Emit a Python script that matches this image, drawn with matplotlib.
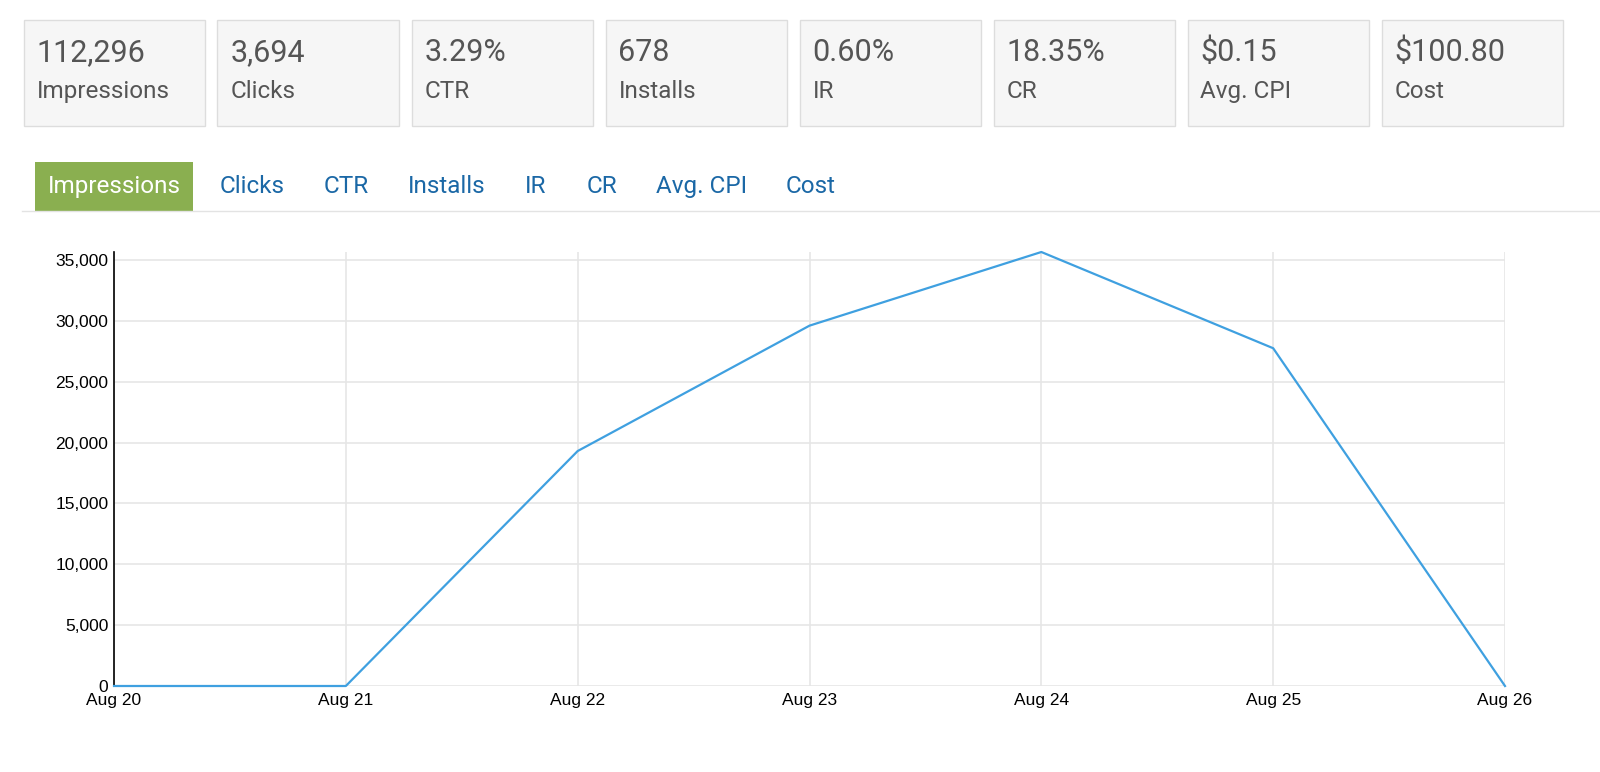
import matplotlib.pyplot as plt
from matplotlib.patches import Rectangle
from matplotlib.ticker import FuncFormatter

# summary cards
card_values = ["112,296", "3,694", "3.29%", "678", "0.60%", "18.35%", "$0.15", "$100.80"]
card_labels = ["Impressions", "Clicks", "CTR", "Installs", "IR", "CR", "Avg. CPI", "Cost"]

# tabs
tab_labels = ["Impressions", "Clicks", "CTR", "Installs", "IR", "CR", "Avg. CPI", "Cost"]
tab_centers = [114, 252, 346, 447, 536, 602, 702, 811]  # px

# chart data
days = ["Aug 20", "Aug 21", "Aug 22", "Aug 23", "Aug 24", "Aug 25", "Aug 26"]
impressions = [0, 0, 19300, 29600, 35650, 27746, 0]

W, H = 1600, 772
fig = plt.figure(figsize=(W / 100, H / 100), dpi=100)
fig.patch.set_facecolor("white")


def fx(px):
    return px / W


def fy(py):
    return 1 - py / H


ui_font = "Roboto"
grey_text = "#555555"

# cards
card_left, card_w, card_pitch = 23.5, 181, 194
card_top, card_bot = 20, 126
for i, (v, lab) in enumerate(zip(card_values, card_labels)):
    x0 = card_left + i * card_pitch
    fig.patches.append(Rectangle((fx(x0), fy(card_bot)), fx(card_w), (card_bot - card_top) / H,
                                 transform=fig.transFigure, facecolor="#f6f6f6",
                                 edgecolor="#dddddd", linewidth=1))
    fig.text(fx(x0 + 13), fy(61), v, fontsize=22, color=grey_text, family=ui_font, va="baseline")
    fig.text(fx(x0 + 13), fy(98), lab, fontsize=17.5, color=grey_text, family=ui_font, va="baseline")

# tabs
fig.patches.append(Rectangle((fx(35), fy(211)), fx(158), 49 / H, transform=fig.transFigure,
                             facecolor="#8aaf50", edgecolor="none"))
fig.add_artist(plt.Line2D([fx(22), 1], [fy(211), fy(211)], transform=fig.transFigure,
                          color="#e3e3e3", linewidth=1))
for i, (lab, cx) in enumerate(zip(tab_labels, tab_centers)):
    col = "white" if i == 0 else "#1b68a6"
    fig.text(fx(cx), fy(193), lab, fontsize=17.5, color=col, family=ui_font,
             ha="center", va="baseline")

# chart
ax_l, ax_r, ax_t, ax_b = 114, 1505, 252, 686
ax = fig.add_axes([fx(ax_l), fy(ax_b), fx(ax_r - ax_l), (ax_b - ax_t) / H])
x = list(range(len(days)))
ax.plot(x, impressions, color="#3fa0e0", linewidth=1.6, zorder=3, clip_on=False)
ax.set_xlim(0, len(days) - 1)
ax.set_ylim(0, max(impressions))
ax.set_xticks(x)
ax.set_xticklabels(days)
ax.set_yticks(range(0, 35001, 5000))
ax.yaxis.set_major_formatter(FuncFormatter(lambda v, p: f"{int(v):,}"))
ax.grid(True, color="#e6e6e6", linewidth=1.2)
ax.set_axisbelow(True)
for s in ["top", "right", "bottom"]:
    ax.spines[s].set_visible(False)
ax.spines["left"].set_color("black")
ax.spines["left"].set_linewidth(1.2)
ax.tick_params(length=0, labelsize=12.5, colors="black")
ax.tick_params(axis="y", pad=4)
ax.tick_params(axis="x", pad=5)
for t in ax.get_xticklabels() + ax.get_yticklabels():
    t.set_family("Liberation Sans")

fig.savefig("out.png", dpi=100)
